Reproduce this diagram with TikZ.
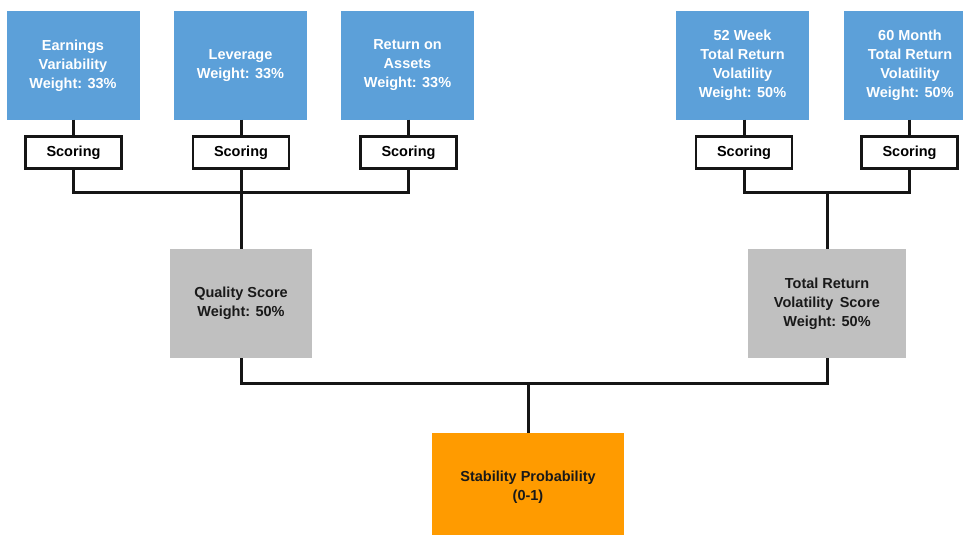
\documentclass[tikz,border=0pt]{standalone}
\usepackage{fontspec}
\setmainfont{Liberation Sans}
\definecolor{boxblue}{HTML}{5CA0D9}
\definecolor{boxgray}{HTML}{C0C0C0}
\definecolor{boxorange}{HTML}{FF9B00}
\definecolor{linedark}{HTML}{151515}
\begin{document}
\begin{tikzpicture}[x=1pt,y=-1pt,
  txt/.style={font=\bfseries\fontsize{14.5}{19}\selectfont, align=center, inner sep=0pt},
  inbox/.style={txt, fill=boxblue, text=white, minimum width=133pt, minimum height=108pt},
  scorebox/.style={txt, draw=linedark, line width=2.8pt, fill=white, text=black, minimum width=96pt, minimum height=32pt},
  midbox/.style={txt, fill=boxgray, text=black!90},
  resbox/.style={txt, fill=boxorange, text=black!90, minimum width=192pt, minimum height=109pt},
  conn/.style={draw=linedark, line width=3pt}]
\clip (0,0) rectangle (963,535);
\fill[white] (0,0) rectangle (963,535);
% input boxes
\node[inbox] (in1) at (73,65.5) {Earnings\\Variability\\Weight: 33\%};
\node[inbox] (in2) at (240.5,65.5) {Leverage\\Weight: 33\%};
\node[inbox] (in3) at (407.5,65.5) {Return on\\Assets\\Weight: 33\%};
\node[inbox] (in4) at (742.5,65.5) {52 Week\\Total Return\\Volatility\\Weight: 50\%};
\node[inbox] (in5) at (910,65.5) {60 Month\\Total Return\\Volatility\\Weight: 50\%};
% scoring boxes
\node[scorebox] (sc1) at (73.5,152.5) {Scoring};
\node[scorebox] (sc2) at (241,152.5) {Scoring};
\node[scorebox] (sc3) at (408.5,152.5) {Scoring};
\node[scorebox] (sc4) at (744,152.5) {Scoring};
\node[scorebox] (sc5) at (909.5,152.5) {Scoring};
% middle boxes
\node[midbox, minimum width=142pt, minimum height=109pt] (q) at (241,303.5) {Quality Score\\Weight: 50\%};
\node[midbox, minimum width=158pt, minimum height=109pt] (t) at (827,303.5) {Total Return\\Volatility\, Score\\Weight: 50\%};
% result
\node[resbox] (o) at (528,487.5) {Stability Probability\\(0-1)};
% bus points
\coordinate (bq) at (241,192);
\coordinate (bt) at (827,192);
\coordinate (bo) at (528,383);
% connectors
\draw[conn] (in1.south -| sc1) -- (sc1);
\draw[conn] (in2.south -| sc2) -- (sc2);
\draw[conn] (in3.south -| sc3) -- (sc3);
\draw[conn] (in4.south -| sc4) -- (sc4);
\draw[conn] (in5.south -| sc5) -- (sc5);
\draw[conn] (sc1) |- (bq) -| (sc3);
\draw[conn] (sc2) -- (q);
\draw[conn] (sc4) |- (bt) -| (sc5);
\draw[conn] (bt) -- (t);
\draw[conn] (q) |- (bo) -| (t);
\draw[conn] (bo) -- (o);
\end{tikzpicture}
\end{document}
